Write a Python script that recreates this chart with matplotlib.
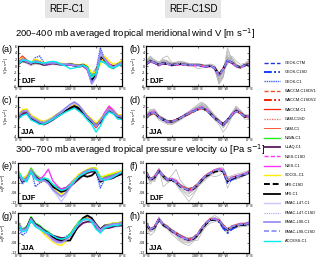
import matplotlib.pyplot as plt
from matplotlib.lines import Line2D

plt.rcParams['font.family'] = ['Liberation Sans', 'DejaVu Sans']

lon = list(range(0, 361, 15))

c1_models = ["GEOS-C1", "WACCM-C1", "CAM-C1", "NIWA-C1", "ULAQ-C1", "NIES-C1",
             "SOCOL-C1", "MRI-C1", "EMAC-L47-C1", "EMAC-L90-C1", "ACCESS-C1"]
sd_models = ["GEOS-CTM", "GEOS-C1SD", "WACCM-C1SDV1", "WACCM-C1SDV2", "CAM-C1SD",
             "NIES-C1SD", "MRI-C1SD", "EMAC-L47-C1SD", "EMAC-L90-C1SD"]
legend_order = ["GEOS-CTM", "GEOS-C1SD", "GEOS-C1", "WACCM-C1SDV1", "WACCM-C1SDV2",
                "WACCM-C1", "CAM-C1SD", "CAM-C1", "NIWA-C1", "ULAQ-C1", "NIES-C1SD",
                "NIES-C1", "SOCOL-C1", "MRI-C1SD", "MRI-C1", "EMAC-L47-C1",
                "EMAC-L47-C1SD", "EMAC-L90-C1", "EMAC-L90-C1SD", "ACCESS-C1"]

# 200-400 mb meridional wind, DJF [m/s]
v_djf_c1 = {
    "GEOS-C1":     [1.2, 2.2, 1.0, 0.8, 2.5, 3.0, 1.0, 0.8, 1.2, 0.9, 0.5, 0.6, 0.4, 0.3, 0.2, 0.4, -0.8, -3.0, -1.5, 5.5, 2.0, 0.0, -0.8, 0.3, 1.2],
    "WACCM-C1":    [1.5, 3.0, 1.8, 0.6, 1.2, 1.0, 0.5, 0.7, 1.1, 0.9, 0.6, 0.4, 0.6, 0.3, -0.1, 0.2, -0.6, -4.0, -1.5, 2.8, 1.8, 0.3, -0.2, 0.7, 1.5],
    "CAM-C1":      [1.3, 2.8, 1.6, 0.7, 1.3, 1.1, 0.6, 0.8, 1.0, 0.8, 0.5, 0.5, 0.5, 0.2, 0.0, 0.3, -0.5, -3.8, -1.2, 2.5, 1.6, 0.2, -0.3, 0.6, 1.3],
    "NIWA-C1":     [0.8, 1.8, 1.4, 1.0, 1.6, 1.4, 0.7, 1.0, 1.2, 1.0, 0.7, 0.6, 0.7, 0.4, 0.2, 0.5, -0.3, -3.2, -2.0, 3.0, 1.2, -0.3, -0.8, 0.4, 0.8],
    "ULAQ-C1":     [0.5, 1.5, 1.2, 0.9, 1.0, 0.8, 0.3, 0.5, 0.8, 0.6, 0.4, 0.3, 0.4, 0.1, -0.2, 0.0, -1.0, -4.5, -2.5, 2.0, 1.8, 0.5, 0.0, 0.2, 0.5],
    "NIES-C1":     [1.0, 2.5, 1.5, 0.5, 1.8, 1.5, 0.4, 0.6, 0.9, 0.7, 0.3, 0.4, 0.3, 0.2, 0.1, 0.3, -1.2, -5.0, -3.0, 2.2, 2.5, 0.8, -0.5, 0.5, 1.0],
    "SOCOL-C1":    [1.8, 2.4, 1.2, 1.2, 2.0, 1.6, 0.9, 1.1, 1.3, 1.1, 0.8, 0.7, 0.8, 0.5, 0.3, 0.6, 0.2, -2.0, -1.8, 0.5, 3.0, 1.5, 0.5, 0.8, 1.8],
    "MRI-C1":      [1.0, 2.0, 1.3, 0.7, 1.4, 1.2, 0.5, 0.8, 1.1, 0.8, 0.5, 0.5, 0.6, 0.3, 0.1, 0.4, -0.4, -4.2, -2.8, 2.8, 2.0, 0.2, -0.5, 0.5, 1.0],
    "EMAC-L47-C1": [1.1, 2.1, 1.4, 0.9, 1.5, 1.3, 0.6, 0.9, 1.0, 0.9, 0.6, 0.6, 0.5, 0.3, 0.1, 0.3, -0.6, -5.5, -3.5, 3.5, 2.2, 0.3, -0.4, 0.5, 1.1],
    "EMAC-L90-C1": [0.9, 1.9, 1.3, 0.8, 1.4, 1.2, 0.6, 0.8, 1.0, 0.8, 0.5, 0.5, 0.5, 0.2, 0.0, 0.2, -0.7, -5.2, -3.2, 4.5, 2.0, 0.1, -0.6, 0.4, 0.9],
    "ACCESS-C1":   [0.6, 1.6, 1.8, 1.2, 1.2, 1.0, 0.9, 1.2, 1.4, 1.2, 0.4, 0.0, -0.8, -0.6, -0.3, 0.2, -0.3, -3.5, -2.2, 1.5, 1.0, -0.2, -0.6, 0.0, 0.6],
}
v_djf_sd = {
    "GEOS-CTM":      [0.6, 1.5, 1.1, 0.4, 0.9, 0.6, 0.3, 0.5, 0.7, 0.5, 0.3, 0.4, 0.3, 0.1, -0.1, 0.1, -0.5, -2.4, -0.7, 1.7, 1.1, 0.1, -0.3, 0.3, 0.6],
    "GEOS-C1SD":     [0.5, 1.6, 1.0, 0.3, 1.0, 0.7, 0.2, 0.5, 0.6, 0.4, 0.3, 0.3, 0.2, 0.0, -0.2, 0.0, -0.7, -2.8, -0.9, 1.8, 1.0, -0.1, -0.4, 0.2, 0.5],
    "WACCM-C1SDV1":  [0.7, 1.3, 0.9, 0.3, 0.7, 0.5, 0.4, 0.6, 0.6, 0.6, 0.4, 0.3, 0.4, 0.2, 0.0, 0.1, -0.5, -2.5, -0.6, 1.5, 0.9, 0.0, -0.3, 0.3, 0.7],
    "WACCM-C1SDV2":  [0.6, 1.4, 1.0, 0.2, 0.8, 0.6, 0.3, 0.4, 0.5, 0.5, 0.3, 0.2, 0.3, 0.1, -0.1, 0.0, -0.6, -2.7, -0.8, 1.6, 1.0, 0.0, -0.4, 0.2, 0.6],
    "CAM-C1SD":      [0.4, 1.3, 1.1, 0.4, 0.7, 0.6, 0.3, 0.5, 0.6, 0.5, 0.2, 0.3, 0.3, 0.1, -0.1, 0.0, -0.6, -2.6, -0.8, 1.5, 1.0, 0.0, -0.5, 0.1, 0.4],
    "NIES-C1SD":     [0.3, 1.2, 0.8, 0.1, 0.6, 0.4, 0.1, 0.3, 0.4, 0.3, 0.1, 0.1, 0.1, -0.1, -0.3, -0.2, -0.8, -3.0, -1.1, 1.3, 0.8, -0.2, -0.6, 0.0, 0.3],
    "MRI-C1SD":      [0.5, 1.4, 1.0, 0.3, 0.8, 0.6, 0.3, 0.5, 0.6, 0.5, 0.3, 0.3, 0.3, 0.1, -0.1, 0.0, -0.6, -2.6, -0.8, 1.6, 1.0, 0.0, -0.4, 0.2, 0.5],
    "EMAC-L47-C1SD": [0.6, 1.5, 1.1, 0.3, 0.9, 0.7, 0.3, 0.6, 0.7, 0.5, 0.3, 0.4, 0.3, 0.1, 0.0, 0.1, -0.6, -2.9, -1.0, 1.9, 1.1, 0.0, -0.4, 0.3, 0.6],
    "EMAC-L90-C1SD": [0.5, 1.4, 1.0, 0.3, 0.8, 0.6, 0.3, 0.5, 0.6, 0.5, 0.3, 0.3, 0.3, 0.1, -0.1, 0.0, -0.7, -2.8, -0.9, 1.7, 1.0, 0.0, -0.4, 0.2, 0.5],
}

# 200-400 mb meridional wind, JJA [m/s]
v_jja_c1 = {
    "GEOS-C1":     [0.2, 1.3, 1.5, 0.2, -0.3, -0.8, -1.5, -1.0, -0.2, 0.5, 1.0, 1.5, 2.0, 2.5, 2.0, 1.2, 0.2, -0.5, -1.5, -0.5, 0.8, 1.8, 1.2, 0.3, 0.2],
    "WACCM-C1":    [-0.2, 0.8, 1.0, -0.2, -0.6, -1.2, -1.3, -0.9, -0.4, 0.2, 0.7, 1.2, 1.6, 2.0, 1.6, 0.8, -0.3, -1.0, -2.2, -1.0, 0.6, 2.0, 1.2, 0.0, -0.2],
    "CAM-C1":      [0.0, 0.9, 1.1, -0.1, -0.5, -1.1, -1.2, -0.8, -0.3, 0.3, 0.8, 1.3, 1.7, 2.1, 1.7, 0.9, -0.2, -0.9, -2.0, -0.9, 0.5, 1.8, 1.1, 0.1, 0.0],
    "NIWA-C1":     [0.3, 1.0, 1.3, 0.3, -0.2, -0.7, -1.0, -0.6, -0.1, 0.4, 0.9, 1.4, 1.9, 2.3, 1.9, 1.1, 0.1, -0.6, -1.6, -0.6, 0.4, 1.3, 0.9, 0.3, 0.3],
    "ULAQ-C1":     [-0.3, 0.5, 0.8, -0.3, -0.8, -1.3, -1.5, -1.1, -0.6, 0.0, 0.6, 1.1, 1.6, 2.0, 1.5, 0.7, -0.2, -1.0, -1.5, -1.2, 0.2, 1.2, 0.8, 0.0, -0.3],
    "NIES-C1":     [0.1, 1.2, 1.4, 0.1, -0.4, -0.9, -1.1, -0.7, -0.2, 0.4, 0.9, 1.5, 2.0, 2.6, 2.2, 1.3, 0.2, -0.6, -2.0, -0.6, 0.9, 2.2, 1.4, 0.4, 0.1],
    "SOCOL-C1":    [0.4, 1.5, 1.6, 0.4, -0.1, -0.6, -0.9, -0.5, 0.0, 0.6, 1.1, 1.6, 2.1, 2.4, 2.1, 1.4, 0.4, -0.4, -1.2, -0.3, 0.6, 1.6, 1.1, 0.5, 0.4],
    "MRI-C1":      [0.0, 1.0, 1.2, 0.0, -0.5, -1.0, -1.2, -0.8, -0.3, 0.3, 0.8, 1.3, 1.8, 2.2, 1.8, 1.0, 0.0, -0.8, -1.8, -0.8, 0.5, 1.5, 1.0, 0.2, 0.0],
    "EMAC-L47-C1": [0.1, 1.1, 1.3, 0.1, -0.4, -0.9, -1.1, -0.7, -0.2, 0.4, 0.9, 1.6, 2.2, 2.8, 2.3, 1.2, 0.0, -0.7, -1.9, -0.7, 0.6, 1.6, 1.0, 0.2, 0.1],
    "EMAC-L90-C1": [0.0, 1.0, 1.2, 0.0, -0.5, -1.0, -1.2, -0.8, -0.3, 0.5, 1.1, 1.8, 2.5, 3.0, 2.4, 1.3, 0.1, -0.7, -1.8, -0.7, 0.5, 1.5, 1.0, 0.2, 0.0],
    "ACCESS-C1":   [-0.5, 0.3, 0.6, -0.6, -1.0, -1.5, -1.4, -1.0, -0.5, 0.0, 0.5, 1.0, 1.4, 1.8, 1.2, 0.5, -0.6, -1.5, -3.0, -1.8, 0.0, 1.0, 0.6, -0.4, -0.5],
}
v_jja_sd = {
    "GEOS-CTM":      [0.1, 0.7, 0.9, 0.1, -0.4, -0.8, -0.9, -0.5, -0.1, 0.4, 0.8, 1.2, 1.6, 1.9, 1.5, 0.8, -0.1, -0.8, -1.3, -0.5, 0.5, 1.3, 0.9, 0.2, 0.1],
    "GEOS-C1SD":     [0.0, 0.8, 0.9, 0.0, -0.6, -1.0, -1.0, -0.6, -0.2, 0.3, 0.7, 1.1, 1.5, 1.9, 1.4, 0.6, -0.3, -1.0, -1.6, -0.7, 0.4, 1.3, 0.8, 0.0, 0.0],
    "WACCM-C1SDV1":  [0.1, 0.6, 0.7, -0.1, -0.5, -0.8, -0.8, -0.5, -0.1, 0.3, 0.7, 1.0, 1.4, 1.7, 1.3, 0.7, -0.2, -0.8, -1.3, -0.5, 0.5, 1.1, 0.7, 0.1, 0.1],
    "WACCM-C1SDV2":  [0.0, 0.5, 0.8, 0.0, -0.5, -0.9, -0.9, -0.6, -0.2, 0.2, 0.6, 1.1, 1.5, 1.8, 1.4, 0.7, -0.2, -0.9, -1.4, -0.6, 0.4, 1.2, 0.8, 0.1, 0.0],
    "CAM-C1SD":      [-0.1, 0.6, 0.8, 0.0, -0.4, -0.9, -1.0, -0.7, -0.2, 0.3, 0.7, 1.1, 1.4, 1.7, 1.4, 0.7, -0.2, -0.9, -1.5, -0.6, 0.3, 1.2, 0.8, 0.1, -0.1],
    "NIES-C1SD":     [0.1, 0.9, 1.0, 0.1, -0.5, -1.0, -0.9, -0.6, -0.1, 0.4, 0.9, 1.3, 1.7, 2.0, 1.6, 0.8, -0.2, -1.0, -1.6, -0.6, 0.6, 1.4, 0.9, 0.2, 0.1],
    "MRI-C1SD":      [0.0, 0.6, 0.8, 0.0, -0.5, -0.9, -0.9, -0.6, -0.2, 0.3, 0.7, 1.1, 1.5, 1.8, 1.4, 0.7, -0.2, -0.9, -1.4, -0.6, 0.4, 1.2, 0.8, 0.1, 0.0],
    "EMAC-L47-C1SD": [0.0, 0.7, 0.9, 0.0, -0.5, -0.9, -1.0, -0.6, -0.2, 0.3, 0.8, 1.2, 1.6, 1.9, 1.5, 0.7, -0.3, -1.0, -1.5, -0.7, 0.4, 1.2, 0.8, 0.1, 0.0],
    "EMAC-L90-C1SD": [0.0, 0.6, 0.8, -0.1, -0.6, -0.9, -0.9, -0.6, -0.2, 0.3, 0.7, 1.1, 1.5, 1.8, 1.4, 0.7, -0.2, -0.9, -1.4, -0.6, 0.4, 1.1, 0.7, 0.1, 0.0],
}

# 300-700 mb pressure velocity, in units of 0.01 Pa/s
w_djf_c1 = {
    "GEOS-C1":     [0.5, -4.5, -2.0, 1.5, -5.5, -4.0, -3.0, -3.5, -5.0, -6.5, -8.0, -7.0, -5.5, -3.0, -1.0, 0.5, 1.0, 1.5, 0.5, -6.0, -2.5, -2.0, -1.0, -0.5, 0.5],
    "WACCM-C1":    [0.0, -3.0, -2.0, 1.5, -1.5, -3.0, -2.5, -3.0, -5.0, -6.0, -7.0, -6.5, -5.0, -3.0, -1.5, -0.5, 0.5, 1.5, 1.5, -2.5, -2.0, -1.5, -1.0, -0.5, 0.0],
    "CAM-C1":      [0.2, -2.8, -1.8, 1.6, -1.3, -2.8, -2.3, -3.2, -5.2, -6.2, -7.2, -6.6, -5.2, -3.1, -1.4, -0.4, 0.6, 1.6, 1.4, -2.4, -1.9, -1.4, -0.9, -0.4, 0.2],
    "NIWA-C1":     [1.0, -2.0, -1.5, 2.0, -0.5, -2.0, -2.0, -3.0, -4.5, -5.5, -6.5, -6.0, -4.5, -2.5, -1.0, 0.0, 1.0, 2.0, 2.0, -1.5, -1.5, -1.0, -0.5, 0.0, 1.0],
    "ULAQ-C1":     [-0.5, -2.5, -3.0, 0.5, -2.0, -3.5, -3.0, -4.0, -5.5, -6.0, -6.5, -6.0, -5.5, -4.0, -2.5, -1.0, 0.0, 0.5, 0.5, -2.0, -2.5, -2.5, -2.0, -1.0, -0.5],
    "NIES-C1":     [0.5, -3.0, -1.5, 1.0, -1.0, -2.5, -1.0, 1.5, -3.0, -5.0, -6.5, -6.0, -4.5, -2.5, -1.0, 0.0, 1.0, 1.5, 1.0, -3.0, -2.0, -1.5, -1.0, 0.0, 0.5],
    "SOCOL-C1":    [1.0, -2.5, -1.0, 1.5, -1.5, -3.5, -3.0, -4.0, -6.0, -7.5, -8.5, -7.0, -5.0, -2.5, -0.5, 0.5, 1.5, 2.0, 2.0, -2.0, -1.0, -0.5, 0.0, 0.5, 1.0],
    "MRI-C1":      [0.0, -3.5, -2.5, 1.0, -1.5, -3.0, -2.5, -3.5, -5.5, -6.5, -7.5, -7.0, -5.5, -3.5, -2.0, -1.0, -1.5, -1.0, 0.5, -3.5, -2.5, -2.0, -1.5, -1.0, 0.0],
    "EMAC-L47-C1": [0.5, -3.0, -2.5, 1.0, -2.0, -3.5, -3.0, -4.5, -7.0, -9.0, -11.5, -9.0, -6.0, -3.5, -1.5, 0.0, 1.0, 1.5, 1.0, -3.0, -2.5, -2.0, -1.5, -0.5, 0.5],
    "EMAC-L90-C1": [0.3, -3.2, -2.3, 1.2, -1.8, -3.3, -2.8, -4.0, -6.5, -8.0, -9.5, -8.0, -5.8, -3.3, -1.3, 0.2, 1.1, 1.6, 1.2, -2.8, -2.3, -1.8, -1.3, -0.3, 0.3],
    "ACCESS-C1":   [0.5, -2.0, -3.5, 0.5, -2.5, -3.0, -2.0, -2.5, -4.5, -6.0, -7.0, -6.5, -5.0, -3.0, -1.5, -0.5, 0.5, 1.0, 1.0, -2.0, -3.0, -2.5, -1.5, -0.5, 0.5],
}
w_djf_sd = {
    "GEOS-CTM":      [0.4, -2.4, -1.4, 1.1, -0.9, -2.4, -2.4, -3.4, -4.9, -5.8, -6.3, -5.8, -4.4, -2.4, -0.9, 0.1, 1.1, 1.6, 1.1, -2.8, -1.9, -1.4, -0.9, -0.4, 0.4],
    "GEOS-C1SD":     [0.2, -2.8, -1.6, 0.8, -1.3, -2.7, -2.6, -3.8, -5.4, -6.4, -6.9, -6.3, -4.7, -2.6, -1.1, -0.1, 0.8, 1.3, 0.6, -4.0, -2.6, -1.8, -1.2, -0.7, 0.2],
    "WACCM-C1SDV1":  [0.3, -2.4, -1.5, 1.0, -0.9, -2.4, -2.5, -3.4, -4.8, -5.8, -6.3, -5.9, -4.4, -2.4, -0.9, 0.1, 1.0, 1.5, 1.1, -2.9, -2.0, -1.4, -1.0, -0.4, 0.3],
    "WACCM-C1SDV2":  [0.3, -2.6, -1.5, 1.0, -1.0, -2.5, -2.5, -3.6, -5.1, -6.1, -6.6, -6.1, -4.6, -2.5, -1.0, 0.0, 1.0, 1.5, 1.0, -3.1, -2.0, -1.5, -1.0, -0.5, 0.3],
    "CAM-C1SD":      [0.4, -2.3, -1.3, 1.2, -0.8, -2.3, -2.3, -3.3, -4.7, -5.7, -6.2, -5.7, -4.3, -2.3, -0.8, 0.2, 1.2, 1.7, 1.2, -2.8, -1.8, -1.3, -0.8, -0.3, 0.4],
    "NIES-C1SD":     [0.5, -2.6, -1.2, 1.3, -1.2, -2.8, -2.2, -3.0, -5.2, -6.5, -7.2, -6.5, -4.8, -2.4, -0.8, 0.2, 1.2, 1.8, 1.3, -3.2, -1.8, -1.2, -0.8, -0.2, 0.5],
    "MRI-C1SD":      [0.1, -2.7, -1.8, 0.8, -1.2, -2.7, -2.8, -3.8, -5.3, -6.3, -6.8, -6.4, -4.9, -2.9, -1.3, -0.4, 0.5, 1.0, 0.7, -3.3, -2.3, -1.7, -1.2, -0.7, 0.1],
    "EMAC-L47-C1SD": [0.3, -2.5, -1.6, 0.9, -1.1, -2.6, -2.6, -3.7, -5.3, -6.4, -7.0, -6.3, -4.7, -2.6, -1.0, 0.0, 1.0, 1.4, 0.9, -3.1, -2.1, -1.6, -1.1, -0.5, 0.3],
    "EMAC-L90-C1SD": [0.3, -2.5, -1.5, 1.0, -1.0, -2.5, -2.5, -3.6, -5.1, -6.2, -6.7, -6.1, -4.6, -2.5, -1.0, 0.0, 1.0, 1.5, 1.0, -3.0, -2.0, -1.5, -1.0, -0.5, 0.3],
}
w_jja_c1 = {
    "GEOS-C1":     [-1.0, -5.0, -3.5, 1.5, -1.0, -2.0, -4.0, -4.5, -5.5, -6.5, -6.5, -5.5, -4.5, -2.5, -0.5, 1.0, 1.5, 1.0, -1.5, -3.5, -2.0, -1.5, -1.0, -1.5, -1.0],
    "WACCM-C1":    [0.0, -3.0, -2.0, 2.0, -0.5, -1.5, -3.0, -4.0, -5.5, -6.5, -7.0, -6.5, -5.0, -2.0, 0.0, 1.5, 2.0, 1.5, -1.0, -3.0, -1.5, -1.0, -0.5, -0.5, 0.0],
    "CAM-C1":      [0.2, -2.8, -1.8, 2.2, -0.3, -1.3, -2.8, -3.8, -5.3, -6.3, -6.8, -6.3, -4.8, -1.8, 0.2, 1.7, 2.2, 1.7, -0.8, -2.8, -1.3, -0.8, -0.3, -0.3, 0.2],
    "NIWA-C1":     [0.5, -2.5, -1.5, 2.5, 0.0, -1.0, -2.5, -3.5, -5.0, -6.0, -6.5, -6.0, -4.5, -2.0, 0.5, 2.0, 2.0, 1.0, -1.5, -3.0, -1.0, -0.5, 0.0, 0.0, 0.5],
    "ULAQ-C1":     [-1.0, -3.0, -2.5, 1.0, -1.0, -2.0, -3.0, -4.0, -5.0, -5.5, -6.0, -6.0, -5.5, -3.5, -1.5, 0.0, 0.5, 0.5, -1.5, -3.0, -2.0, -2.0, -1.5, -1.0, -1.0],
    "NIES-C1":     [0.0, -3.5, -2.0, 1.5, -0.5, -1.5, -3.5, -5.0, -6.0, -7.0, -7.5, -7.0, -5.5, -2.5, 0.0, 1.5, 2.0, 1.5, -1.0, -3.5, -1.5, -1.0, -0.5, -0.5, 0.0],
    "SOCOL-C1":    [0.5, -3.0, -2.0, 1.5, -1.0, -2.5, -4.5, -6.0, -7.5, -8.5, -9.0, -7.5, -5.5, -2.5, 0.0, 1.5, 2.0, 1.5, -0.5, -2.5, -1.0, -0.5, 0.0, 0.0, 0.5],
    "MRI-C1":      [0.0, -3.0, -2.0, 2.0, -0.5, -1.5, -3.0, -4.5, -5.5, -6.5, -7.0, -7.0, -7.0, -4.0, -0.5, 2.0, 3.0, 2.0, -0.5, -2.5, -1.0, -1.0, -0.5, -0.5, 0.0],
    "EMAC-L47-C1": [0.0, -3.0, -2.5, 1.5, -1.0, -2.0, -3.5, -5.0, -7.0, -8.0, -8.0, -7.0, -5.5, -3.0, -0.5, 1.0, 1.5, 1.0, -1.0, -3.0, -1.5, -1.0, -0.5, -0.5, 0.0],
    "EMAC-L90-C1": [0.2, -2.8, -2.2, 1.7, -0.8, -1.8, -3.2, -4.7, -6.5, -7.5, -7.8, -6.8, -5.2, -2.8, -0.3, 1.2, 1.7, 1.2, -0.8, -2.8, -1.3, -0.8, -0.3, -0.3, 0.2],
    "ACCESS-C1":   [-0.5, -3.5, -3.0, 1.0, -1.5, -2.5, -3.5, -4.0, -5.0, -6.0, -6.5, -6.0, -5.0, -2.5, 0.0, 1.5, 1.5, 0.5, -2.5, -4.0, -2.0, -1.5, -1.0, -1.0, -0.5],
}
w_jja_sd = {
    "GEOS-CTM":      [0.1, -2.4, -1.4, 1.6, -0.4, -1.4, -2.9, -3.9, -4.9, -5.8, -6.3, -5.8, -4.4, -1.9, 0.1, 1.6, 1.6, 1.1, -0.9, -2.4, -1.4, -0.9, -0.4, -0.4, 0.1],
    "GEOS-C1SD":     [-0.2, -2.8, -1.7, 1.3, -0.7, -1.7, -3.2, -4.3, -5.3, -6.3, -6.8, -6.2, -4.7, -2.2, -0.2, 1.3, 1.2, 0.5, -2.0, -4.0, -2.5, -1.5, -0.8, -0.7, -0.2],
    "WACCM-C1SDV1":  [0.0, -2.4, -1.5, 1.5, -0.5, -1.4, -2.9, -3.9, -4.9, -5.9, -6.4, -5.9, -4.4, -1.9, 0.0, 1.5, 1.5, 1.0, -0.9, -2.4, -1.4, -1.0, -0.5, -0.5, 0.0],
    "WACCM-C1SDV2":  [0.0, -2.6, -1.5, 1.5, -0.5, -1.6, -3.1, -4.1, -5.1, -6.1, -6.6, -6.1, -4.6, -2.1, 0.0, 1.5, 1.5, 1.0, -1.1, -2.6, -1.6, -1.0, -0.5, -0.5, 0.0],
    "CAM-C1SD":      [0.1, -2.3, -1.3, 1.7, -0.3, -1.3, -2.8, -3.8, -4.8, -5.8, -6.3, -5.8, -4.3, -1.8, 0.2, 1.7, 1.7, 1.2, -0.8, -2.3, -1.3, -0.8, -0.3, -0.3, 0.1],
    "NIES-C1SD":     [0.2, -2.7, -1.3, 1.8, -0.6, -1.8, -3.4, -4.5, -5.5, -6.5, -7.0, -6.4, -4.8, -2.1, 0.1, 1.7, 1.7, 1.2, -1.0, -2.8, -1.4, -0.8, -0.3, -0.3, 0.2],
    "MRI-C1SD":      [-0.2, -2.7, -1.8, 1.2, -0.8, -1.8, -3.2, -4.2, -5.2, -6.2, -6.8, -6.4, -5.0, -2.5, -0.4, 1.1, 1.3, 0.8, -1.2, -2.7, -1.7, -1.3, -0.8, -0.7, -0.2],
    "EMAC-L47-C1SD": [0.0, -2.5, -1.6, 1.4, -0.6, -1.6, -3.1, -4.2, -5.3, -6.3, -6.8, -6.2, -4.6, -2.1, -0.1, 1.4, 1.4, 0.9, -1.1, -2.6, -1.6, -1.1, -0.6, -0.6, 0.0],
    "EMAC-L90-C1SD": [0.0, -2.5, -1.5, 1.5, -0.5, -1.5, -3.0, -4.1, -5.1, -6.1, -6.6, -6.1, -4.5, -2.0, 0.0, 1.5, 1.5, 1.0, -1.0, -2.5, -1.5, -1.0, -0.5, -0.5, 0.0],
}

styles = {
    "GEOS-CTM":      ("#2236e0", (0, (3, 1.5)), 1.0),
    "GEOS-C1SD":     ("#1a3cff", (0, (4, 1.2, 1, 1.2)), 1.4),
    "GEOS-C1":       ("#4060ff", (0, (1, 0.6)), 1.0),
    "WACCM-C1SDV1":  ("#ee5522", (0, (3, 1.5)), 1.0),
    "WACCM-C1SDV2":  ("#ee2200", (0, (4, 1.2, 1, 1.2)), 1.4),
    "WACCM-C1":      ("#ff2200", "-", 0.9),
    "CAM-C1SD":      ("#ee6655", (0, (1, 1)), 0.9),
    "CAM-C1":        ("#ff5533", "-", 0.7),
    "NIWA-C1":       ("#22ee22", "-", 1.0),
    "ULAQ-C1":       ("#5a1a5a", "-", 1.3),
    "NIES-C1SD":     ("#ff33ff", (0, (3, 1.5)), 1.0),
    "NIES-C1":       ("#ff33ff", "-", 1.0),
    "SOCOL-C1":      ("#ffee00", "-", 1.0),
    "MRI-C1SD":      ("black", (0, (3, 1.5)), 1.4),
    "MRI-C1":        ("black", "-", 1.3),
    "EMAC-L47-C1":   ("#c8c8ff", "-", 1.0),
    "EMAC-L47-C1SD": ("#a0a0ff", (0, (1, 1)), 0.8),
    "EMAC-L90-C1":   ("#9088f0", "-", 1.2),
    "EMAC-L90-C1SD": ("#8888f8", (0, (3, 1.5)), 1.2),
    "ACCESS-C1":     ("#00eeee", "-", 1.0),
}

W, H = 320, 267
fig = plt.figure(figsize=(W / 100, H / 100), dpi=100)


def box(x0, y0, x1, y1):
    return [x0 / W, 1 - y1 / H, (x1 - x0) / W, (y1 - y0) / H]


def panel(rect, label, season, colored, gray, scale, ylim, yticks, yticklabels, ylabel):
    ax = fig.add_axes(rect)
    for name, vals in gray.items():
        ax.plot(lon, [v * scale for v in vals], color="#b4b4b4", lw=0.5)
    for name, vals in colored.items():
        c, ls, lw = styles[name]
        ax.plot(lon, [v * scale for v in vals], color=c, ls=ls, lw=lw)
    ax.set_xlim(0, 360)
    ax.set_ylim(*ylim)
    ax.set_xticks([0, 90, 180, 270, 360])
    ax.set_xticklabels(["0° E", "90° E", "180° E", "90° W", "0° E"])
    ax.set_yticks(yticks)
    ax.set_yticklabels(yticklabels)
    ax.tick_params(labelsize=2.6, direction="in", length=1.5, width=0.4, pad=1,
                   top=True, right=True)
    ax.set_ylabel(ylabel, fontsize=2.6, labelpad=1)
    for s in ax.spines.values():
        s.set_linewidth(0.9)
    ax.text(0.03, 0.07, season, transform=ax.transAxes, fontsize=5.5,
            fontweight="bold")
    fig.text(rect[0] - 16 / W, rect[1] + rect[3] - 6 / H, label, fontsize=6.5)
    return ax


vlab = "V [m s$^{-1}$]"
wlab = "ω [Pa s$^{-1}$]"
vt = [-6, -4, -2, 0, 2, 4, 6]
vtl = ["-6", "-4", "-2", "0", "2", "4", "6"]
jt = [-4, -2, 0, 2, 4]
jtl = ["-4", "-2", "0", "2", "4"]
wt = [-0.12, -0.08, -0.04, 0, 0.04]
wtl = ["-.12", "-.08", "-.04", "0", ".04"]

panel(box(18, 46, 122, 86), "(a)", "DJF", v_djf_c1, v_djf_sd, 1, (-6, 6), vt, vtl, vlab)
panel(box(146, 46, 249, 86), "(b)", "DJF", v_djf_sd, v_djf_c1, 1, (-6, 6), vt, vtl, vlab)
panel(box(18, 97, 122, 137), "(c)", "JJA", v_jja_c1, v_jja_sd, 1, (-4, 4), jt, jtl, vlab)
panel(box(146, 97, 249, 137), "(d)", "JJA", v_jja_sd, v_jja_c1, 1, (-4, 4), jt, jtl, vlab)
panel(box(18, 163, 122, 203), "(e)", "DJF", w_djf_c1, w_djf_sd, 0.01, (-0.12, 0.04), wt, wtl, wlab)
panel(box(146, 163, 249, 203), "(f)", "DJF", w_djf_sd, w_djf_c1, 0.01, (-0.12, 0.04), wt, wtl, wlab)
panel(box(18, 213, 122, 253), "(g)", "JJA", w_jja_c1, w_jja_sd, 0.01, (-0.12, 0.04), wt, wtl, wlab)
panel(box(146, 213, 249, 253), "(h)", "JJA", w_jja_sd, w_jja_c1, 0.01, (-0.12, 0.04), wt, wtl, wlab)

# column headers
for x, txt in [(67 / W, "REF-C1"), (193 / W, "REF-C1SD")]:
    fig.text(x, 1 - 9 / H, txt, fontsize=7, ha="center", va="center",
             bbox=dict(facecolor="#e6e6e6", edgecolor="none", pad=3))

fig.text(15 / W, 1 - 34 / H, "200–400 mb averaged tropical meridional wind V [m s$^{-1}$]",
         fontsize=6.8, va="center")
fig.text(15 / W, 1 - 150 / H, "300–700 mb averaged tropical pressure velocity ω [Pa s$^{-1}$]",
         fontsize=6.8, va="center")

handles = []
for name in legend_order:
    c, ls, lw = styles[name]
    handles.append(Line2D([], [], color=c, ls=ls, lw=lw))
fig.legend(handles, legend_order, loc="upper left", bbox_to_anchor=(264 / W, 1 - 61 / H),
           frameon=False, fontsize=2.8, handlelength=4.2, handletextpad=1.2,
           labelspacing=1.38, borderpad=0, borderaxespad=0)

fig.savefig("out.png", dpi=100)
